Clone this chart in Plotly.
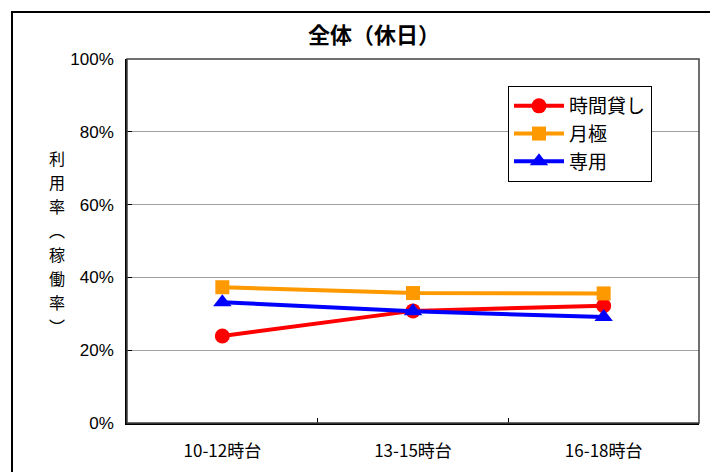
import plotly.graph_objects as go

# Time slots and utilisation rates (holiday, all facilities)
categories = ["10-12時台", "13-15時台", "16-18時台"]
hourly = [0.239, 0.308, 0.322]     # 時間貸し
monthly = [0.373, 0.357, 0.356]    # 月極
dedicated = [0.332, 0.307, 0.291]  # 専用

series_names = ["時間貸し", "月極", "専用"]
y_ticks = [0, 0.2, 0.4, 0.6, 0.8, 1.0]

JP = "Noto Sans CJK JP"

fig = go.Figure()
styles = [
    (hourly, "#FF0000", "circle", 15),
    (monthly, "#FF9900", "square", 14),
    (dedicated, "#0000FF", "triangle-up", 16),
]
for name, (vals, color, sym, size) in zip(series_names, styles):
    fig.add_trace(go.Scatter(
        x=categories, y=vals, name=name, mode="lines+markers",
        line=dict(color=color, width=4),
        marker=dict(symbol=sym, size=size, color=color),
        legendgroup=name,
    ))

W, H = 710, 472
L, R, T, B = 127, 11, 59, 49
pw, ph = W - L - R, H - T - B

def px_x(x):
    return (x - L) / pw

def px_y(y):
    return (H - B - y) / ph

fig.update_layout(
    width=W, height=H,
    margin=dict(l=L, r=R, t=T, b=B),
    paper_bgcolor="white", plot_bgcolor="white",
    font=dict(family=JP, color="black", size=16),
    title=dict(text="<b>全体（休日）</b>", x=374 / W,
               xanchor="center", y=1 - 35 / H, yanchor="middle",
               font=dict(size=22, family=JP)),
    showlegend=True,
    legend=dict(
        x=px_x(508), y=px_y(86), xanchor="left", yanchor="top",
        bordercolor="black", borderwidth=1, bgcolor="white",
        font=dict(size=19, family=JP),
        traceorder="grouped", tracegroupgap=0, itemwidth=50,
    ),
    xaxis=dict(
        type="category", range=[-0.5, 2.5],
        tickson="boundaries", ticks="inside", ticklen=5, tickcolor="black",
        showline=True, linecolor="black", linewidth=2,
        showgrid=False, tickfont=dict(size=17, family=JP),
        ticklabelstandoff=12,
    ),
    yaxis=dict(
        range=[0, 1], tickvals=y_ticks, tickformat=".0%",
        ticks="inside", ticklen=5, tickcolor="black",
        showline=True, linecolor="black", linewidth=1.5,
        showgrid=True, gridcolor="#A0A0A0", gridwidth=1,
        zeroline=False, ticklabelstandoff=8,
        tickfont=dict(size=17, family="Liberation Sans Narrow, Arial Narrow, Liberation Sans"),
    ),
)

# Plot-area frame and outer chart border
fig.add_shape(type="rect", xref="paper", yref="paper", x0=0, y0=0, x1=1, y1=1,
              line=dict(color="#404040", width=1.5), layer="above")
fig.add_shape(type="rect", xref="paper", yref="paper",
              x0=px_x(12), y0=px_y(490), x1=px_x(720), y1=px_y(12),
              line=dict(color="black", width=2), layer="above")

# Vertical axis title, one character per row
title_chars = ["利", "用", "率", "︵", "稼", "働", "率", "︶"]
for i, ch in enumerate(title_chars):
    fig.add_annotation(
        text=ch, xref="paper", yref="paper",
        x=px_x(57), y=px_y(158 + 24 * i), xanchor="center", yanchor="middle",
        showarrow=False, font=dict(size=16, family=JP),
    )

fig.write_html("out.html")
